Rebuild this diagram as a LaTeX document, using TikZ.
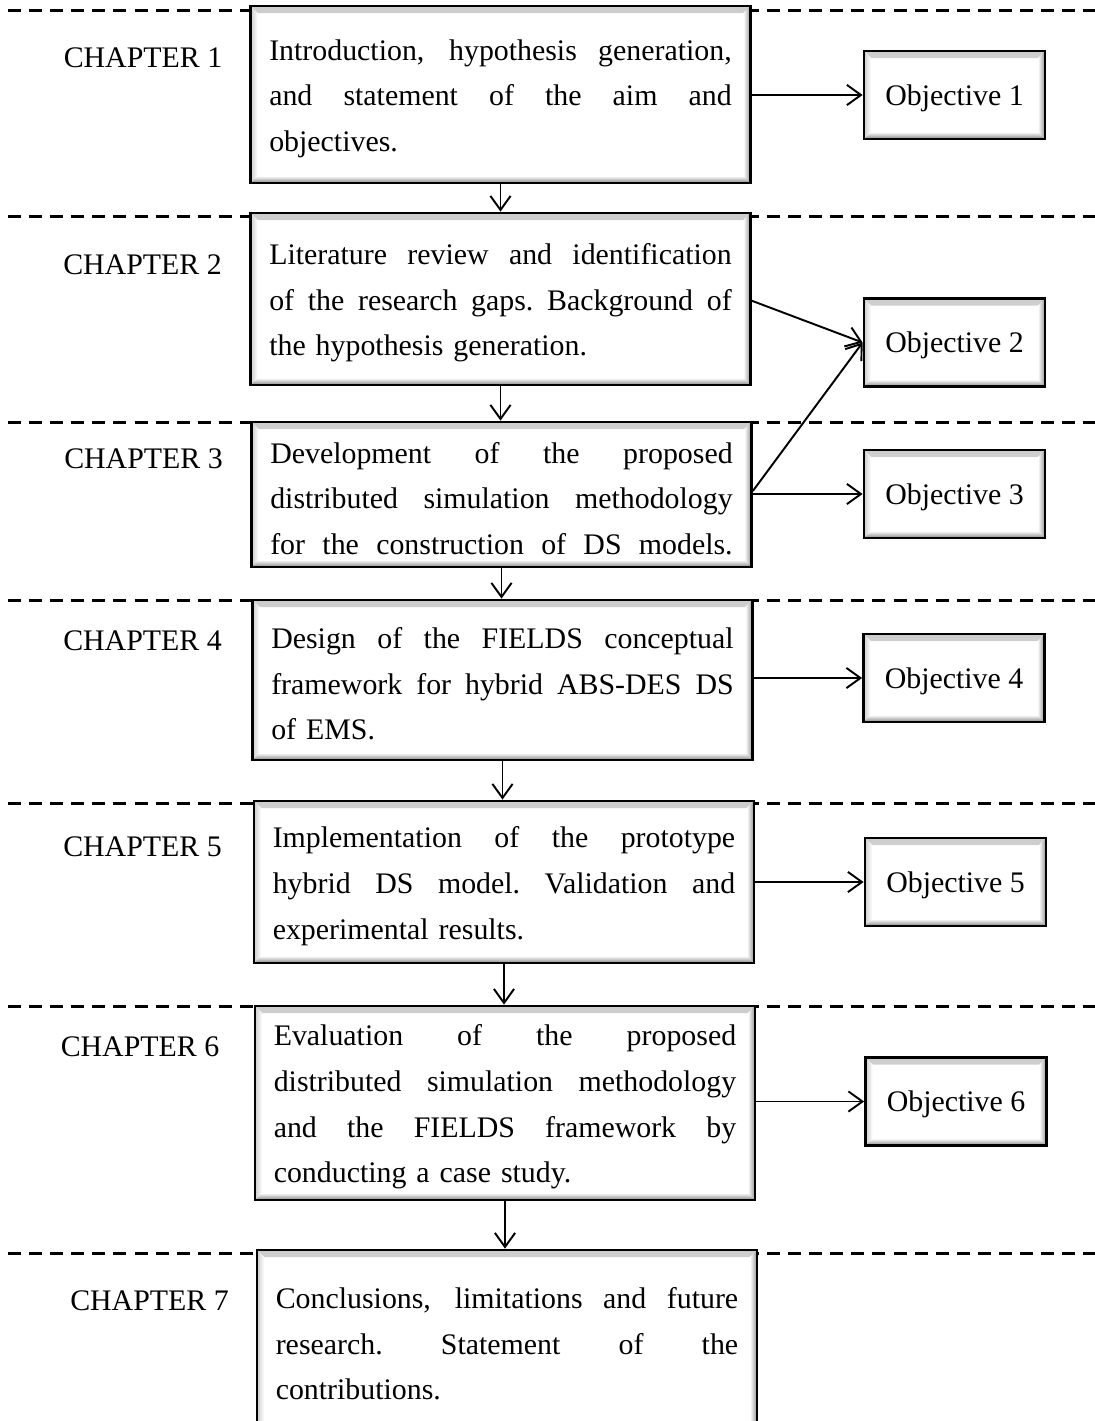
\documentclass[tikz,border=0pt]{standalone}
\usepackage{fontspec}
\setmainfont{Liberation Serif}
\usetikzlibrary{arrows.meta}
% one fully justified line inside a box: all word gaps stretch alike
\newcommand{\jl}[1]{\noindent\hbox to\hsize{%
  \spaceskip=0.25em plus 1fil\xspaceskip=0.25em plus 1fil\relax #1}}

\tikzset{
  bevel/.style={path picture={
    \shade[top color=gray!40, bottom color=white]
      (path picture bounding box.north west) -- (path picture bounding box.north east)
      -- ([shift={(-4pt,-4pt)}]path picture bounding box.north east)
      -- ([shift={(4pt,-4pt)}]path picture bounding box.north west) -- cycle;
    \shade[left color=gray!40, right color=white]
      (path picture bounding box.north west) -- ([shift={(4pt,-4pt)}]path picture bounding box.north west)
      -- ([shift={(4pt,4pt)}]path picture bounding box.south west)
      -- (path picture bounding box.south west) -- cycle;
    \shade[left color=white, right color=gray!85]
      (path picture bounding box.north east) -- (path picture bounding box.south east)
      -- ([shift={(-4pt,4pt)}]path picture bounding box.south east)
      -- ([shift={(-4pt,-4pt)}]path picture bounding box.north east) -- cycle;
    \shade[top color=white, bottom color=gray!95]
      (path picture bounding box.south west) -- (path picture bounding box.south east)
      -- ([shift={(-4pt,4pt)}]path picture bounding box.south east)
      -- ([shift={(4pt,4pt)}]path picture bounding box.south west) -- cycle;
  }},
  chapbox/.style={bevel, draw, line width=1.6pt, fill=white, minimum width=10cm,
    text width=9.25cm, inner sep=0pt, align=left,
    font=\fontsize{17}{26}\selectfont,
    execute at begin node={\leavevmode\rule{0pt}{16.5pt}}},
  objbox/.style={bevel, draw, line width=1.6pt, fill=white, minimum width=3.62cm,
    minimum height=1.76cm, inner sep=0pt, text depth=0pt,
    font=\fontsize{17}{20}\selectfont},
  chaplabel/.style={inner sep=0pt, font=\fontsize{17}{20}\selectfont},
  chapline/.style={dash pattern=on 7.4pt off 4.6pt, line width=1.7pt},
  link/.style={line width=1.1pt,
    -{Straight Barb[length=8pt,width=11.5pt,line width=1.1pt]}}
}

\begin{document}
\begin{tikzpicture}[x=0.02cm, y=-0.02cm]
  \clip (0,0) rectangle (1095,1421);
  \fill[white] (0,0) rectangle (1095,1421);

  % separators between chapters
  \foreach \yy in {10,216,422,600,803,1006,1253}
    \draw[chapline] (8,\yy) -- (1095,\yy);

  % chapter labels
  \node[chaplabel] (c1) at (143,58)   {CHAPTER 1};
  \node[chaplabel] (c2) at (142.5,265) {CHAPTER 2};
  \node[chaplabel] (c3) at (143.5,459) {CHAPTER 3};
  \node[chaplabel] (c4) at (142.5,641) {CHAPTER 4};
  \node[chaplabel] (c5) at (142.5,847) {CHAPTER 5};
  \node[chaplabel] (c6) at (140,1047)  {CHAPTER 6};
  \node[chaplabel] (c7) at (149.5,1301) {CHAPTER 7};

  % chapter contents
  \node[chapbox, minimum height=3.54cm] (b1) at (500.5,94.5)
    {\jl{Introduction, hypothesis generation,}\\
     \jl{and statement of the aim and}\\
     objectives.};
  \node[chapbox, minimum height=3.44cm] (b2) at (500.5,299)
    {\jl{Literature review and identification}\\
     \jl{of the research gaps. Background of}\\
     the hypothesis generation.};
  \node[chapbox, minimum height=2.9cm] (b3) at (501.5,494.5)
    {\jl{Development of the proposed}\\
     \jl{distributed simulation methodology}\\
     \jl{for the construction of DS models.}};
  \node[chapbox, minimum height=3.2cm] (b4) at (502.5,680)
    {\jl{Design of the FIELDS conceptual}\\
     \jl{framework for hybrid ABS-DES DS}\\
     of EMS.};
  \node[chapbox, minimum height=3.24cm] (b5) at (504,882)
    {\jl{Implementation of the prototype}\\
     \jl{hybrid DS model. Validation and}\\
     experimental results.};
  \node[chapbox, minimum height=3.88cm] (b6) at (505,1103)
    {\jl{Evaluation of the proposed}\\
     \jl{distributed simulation methodology}\\
     \jl{and the FIELDS framework by}\\
     conducting a case study.};
  \node[chapbox, minimum height=3.6cm] (b7) at (507,1340)
    {\jl{Conclusions, limitations and future}\\
     \jl{research. Statement of the}\\
     contributions.};

  % objectives
  \node[objbox] (o1) at (954.5,95)    {Objective 1};
  \node[objbox] (o2) at (954.5,342.5) {Objective 2};
  \node[objbox] (o3) at (954.5,494)   {Objective 3};
  \node[objbox] (o4) at (954,678)     {Objective 4};
  \node[objbox] (o5) at (955.5,882)   {Objective 5};
  \node[objbox] (o6) at (956,1101.5)  {Objective 6};

  % flow between chapters
  \draw[link] (b1.south) -- (b1.south |- b2.north);
  \draw[link] (b2.south) -- (b2.south |- b3.north);
  \draw[link] (b3.south) -- (b3.south |- b4.north);
  \draw[link] (b4.south) -- (b4.south |- b5.north);
  \draw[link] (b5.south) -- (b5.south |- b6.north);
  \draw[link] (b6.south) -- (b6.south |- b7.north);

  % chapters to objectives
  \draw[link] (o1.west -| b1.east) -- (o1.west);
  \draw[link] ([yshift=-1pt]b2.east) -- (o2.west);
  \draw[link] ([yshift=2pt]b3.east) -- (o2.west);
  \draw[link] (o3.west -| b3.east) -- (o3.west);
  \draw[link] (o4.west -| b4.east) -- (o4.west);
  \draw[link] (o5.west -| b5.east) -- (o5.west);
  \draw[link] (o6.west -| b6.east) -- (o6.west);
\end{tikzpicture}
\end{document}
